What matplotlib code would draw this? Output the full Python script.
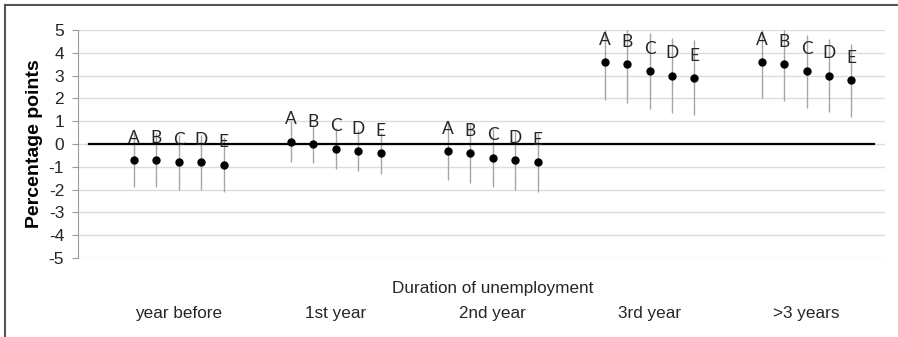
import numpy as np
import matplotlib.pyplot as plt
from matplotlib.lines import Line2D

plt.rcParams["font.family"] = ["Liberation Sans", "DejaVu Sans"]
plt.rcParams["axes.unicode_minus"] = False

# categories
groups = ["year before", "1st year", "2nd year", "3rd year", ">3 years"]
letters = ["A", "B", "C", "D", "E"]

# point estimates per group (A..E)
est_yb = [-0.7, -0.7, -0.8, -0.8, -0.9]
est_y1 = [0.1, 0.0, -0.2, -0.3, -0.4]
est_y2 = [-0.3, -0.4, -0.6, -0.7, -0.8]
est_y3 = [3.6, 3.5, 3.2, 3.0, 2.9]
est_y4 = [3.6, 3.5, 3.2, 3.0, 2.8]

# lower / upper ends of the intervals
low_yb = [-1.9, -1.9, -2.0, -2.0, -2.1]
low_y1 = [-0.8, -0.85, -1.1, -1.2, -1.3]
low_y2 = [-1.6, -1.7, -1.9, -2.0, -2.1]
low_y3 = [1.95, 1.8, 1.55, 1.35, 1.25]
low_y4 = [2.0, 1.9, 1.6, 1.4, 1.2]

high_yb = [0.5, 0.5, 0.4, 0.4, 0.3]
high_y1 = [1.0, 0.85, 0.7, 0.6, 0.5]
high_y2 = [1.0, 0.9, 0.7, 0.6, 0.5]
high_y3 = [5.25, 5.15, 4.85, 4.65, 4.55]
high_y4 = [5.2, 5.1, 4.8, 4.6, 4.4]

est = [est_yb, est_y1, est_y2, est_y3, est_y4]
low = [low_yb, low_y1, low_y2, low_y3, low_y4]
high = [high_yb, high_y1, high_y2, high_y3, high_y4]

fig = plt.figure(figsize=(8.98, 3.37), dpi=100)
ax = fig.add_axes([0.0869, 0.2344, 0.8986, 0.6766])

# 7 slots per group: 5 points + 2 blank
for g in range(len(groups)):
    xs = np.arange(5) + 7 * g
    y = np.array(est[g])
    lo = np.array(low[g])
    hi = np.array(high[g])
    ax.vlines(xs, lo, hi, color="#a6a6a6", lw=1.0, zorder=2)
    ax.plot(xs, y, "o", color="black", ms=5, zorder=3)
    for x, v, lab in zip(xs, y, letters):
        ax.annotate(lab, (x, v), xytext=(0, 16), textcoords="offset points",
                    ha="center", va="center", fontsize=12.5, family="Lato",
                    color="#262626", zorder=4)
    ax.text(7 * g + 2, -7.45, groups[g], ha="center", va="center",
            fontsize=12.3, color="#262626")

ax.text(7 * 2 + 2, -6.35, "Duration of unemployment", ha="center", va="center",
        fontsize=12.3, color="#262626")

ax.plot([-2, 33], [0, 0], color="black", lw=1.6, zorder=2.5)

ax.set_xlim(-2.5, 33.5)
ax.set_ylim(-5, 5)
ax.set_yticks(range(-5, 6))
ax.set_xticks([])
ax.grid(axis="y", color="#dcdcdc", lw=1.0)
ax.set_axisbelow(True)
for s in ["top", "right", "bottom"]:
    ax.spines[s].set_visible(False)
ax.spines["left"].set_color("#999999")
ax.tick_params(axis="y", length=4, color="#999999", labelsize=12.5,
               labelcolor="#262626", pad=6)
ax.set_ylabel("Percentage points", fontsize=14, fontweight="bold", labelpad=4)

# outer frame (left and top only, image is cropped)
fig.add_artist(Line2D([5 / 898, 5 / 898], [0, 1 - 5 / 337], color="#555555", lw=1.5))
fig.add_artist(Line2D([5 / 898, 1], [1 - 5 / 337, 1 - 5 / 337], color="#555555", lw=1.5))

fig.savefig("out.png", dpi=100)
